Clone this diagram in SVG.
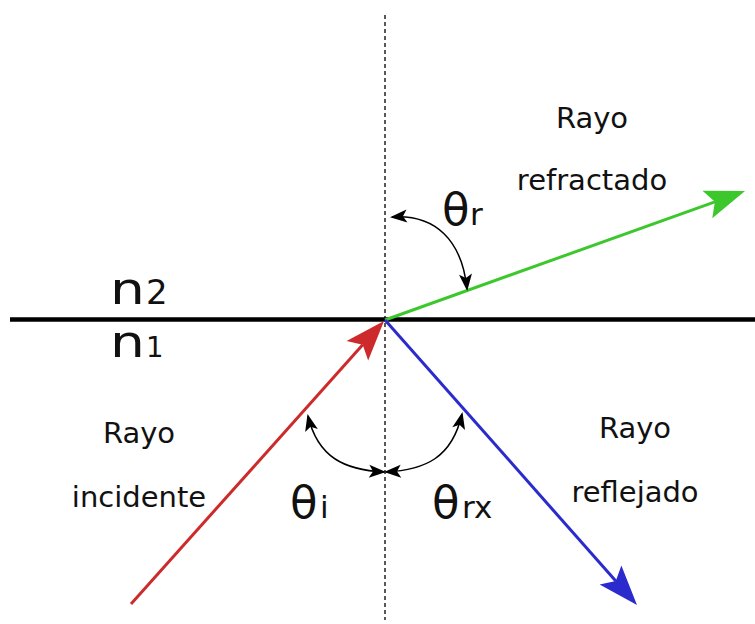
<svg xmlns="http://www.w3.org/2000/svg" width="755" height="624" viewBox="0 0 755 624">
<style>
text{font-family:"DejaVu Sans","Verdana",sans-serif;fill:#111}
.lbl{font-size:29px;text-anchor:middle}
.th{font-size:45px}
.sub{font-size:31px}
.ray{stroke-width:3;fill:none}
.arc{stroke:#000;stroke-width:1.5;fill:none;marker-start:url(#sa);marker-end:url(#sa)}
</style>
<defs>
<marker id="hr" markerUnits="userSpaceOnUse" orient="auto" overflow="visible" markerWidth="1" markerHeight="1" refX="0" refY="0"><path d="M32,0 L-8,-14.5 L0,0 L-8,14.5 Z" fill="#cd2b2b"/></marker>
<marker id="hg" markerUnits="userSpaceOnUse" orient="auto" overflow="visible" markerWidth="1" markerHeight="1" refX="0" refY="0"><path d="M32,0 L-8,-14.5 L0,0 L-8,14.5 Z" fill="#3cc82c"/></marker>
<marker id="hb" markerUnits="userSpaceOnUse" orient="auto" overflow="visible" markerWidth="1" markerHeight="1" refX="0" refY="0"><path d="M32,0 L-8,-14.5 L0,0 L-8,14.5 Z" fill="#2b2bcd"/></marker>
<marker id="sa" markerUnits="userSpaceOnUse" orient="auto-start-reverse" overflow="visible" markerWidth="1" markerHeight="1" refX="0" refY="0"><path d="M2,0 L-15,-6.5 L-11,0 L-15,6.5 Z" fill="#000"/></marker>
</defs>
<g id="connectors">
<line id="normal" x1="385" y1="15" x2="385" y2="620" stroke="#000" stroke-width="1.3" stroke-dasharray="4,3"/>
<line id="interface" x1="10" y1="319.5" x2="755" y2="319.5" stroke="#000" stroke-width="4.5"/>
<line id="incident" class="ray" x1="131" y1="604" x2="362.7" y2="344.8" stroke="#cd2b2b" marker-end="url(#hr)"/>
<line id="refracted" class="ray" x1="385" y1="320" x2="714.9" y2="201.8" stroke="#3cc82c" marker-end="url(#hg)"/>
<line id="reflected" class="ray" x1="385" y1="320" x2="615.8" y2="581" stroke="#2b2bcd" marker-end="url(#hb)"/>
<path id="arc-r" class="arc" d="M392,217 C435,214 462,240 467,289"/>
<path id="arc-i" class="arc" d="M308,416 C318,458 345,470 384,472"/>
<path id="arc-rx" class="arc" d="M462,414 C452,458 425,470 386,472"/>
</g>
<g id="n2"><text transform="translate(110,304) scale(1.25,1)" style="font-size:44px">n</text><text x="146" y="304" style="font-size:34px">2</text></g>
<g id="n1"><text transform="translate(110,357) scale(1.25,1)" style="font-size:44px">n</text><text x="146" y="357" style="font-size:27.5px">1</text></g>
<g id="label-refracted"><text class="lbl" x="592" y="128">Rayo</text><text class="lbl" x="592" y="190">refractado</text></g>
<g id="label-incident"><text class="lbl" x="139" y="443">Rayo</text><text class="lbl" x="139" y="507">incidente</text></g>
<g id="label-reflected"><text class="lbl" x="635" y="438">Rayo</text><text class="lbl" x="635" y="502">reflejado</text></g>
<g id="theta-r"><text x="442" y="225"><tspan class="th">θ</tspan><tspan class="sub" x="470">r</tspan></text></g>
<g id="theta-i"><text x="290" y="518"><tspan class="th">θ</tspan><tspan class="sub" x="320">i</tspan></text></g>
<g id="theta-rx"><text x="432" y="518"><tspan class="th">θ</tspan><tspan class="sub" x="462">rx</tspan></text></g>
</svg>
